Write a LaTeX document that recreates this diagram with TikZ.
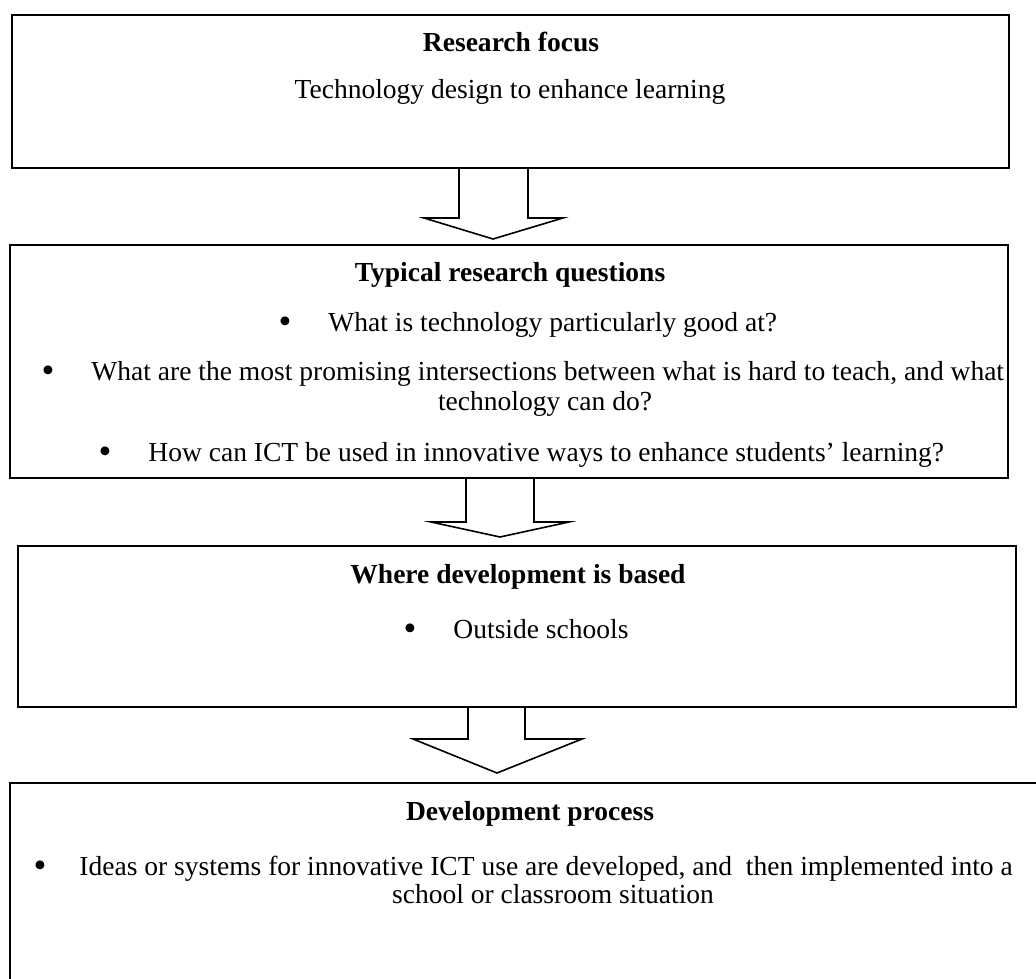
\documentclass[tikz,border=0pt]{standalone}
\usepackage{fontspec}
\setmainfont{Liberation Serif}
\usetikzlibrary{fit}
\begin{document}
\begin{tikzpicture}[x=0.436pt,y=-0.436pt,
  box/.style={draw=black,line width=0.9pt,inner sep=0pt},
  blockarrow/.style={draw=black,line width=0.7pt,line join=miter},
  txt/.style={inner sep=0pt,anchor=base,font=\fontsize{12}{14}\selectfont},
  ttl/.style={txt,font=\fontsize{12}{14}\selectfont\bfseries},
  lt/.style={inner sep=0pt,anchor=base west,font=\fontsize{12}{14}\selectfont},
  bul/.style={inner sep=0pt,anchor=base,font=\fontsize{16}{14}\selectfont}]
\useasboundingbox (0,0) rectangle (1036,979);
\clip (0,0) rectangle (1036,979);
\fill[white] (0,0) rectangle (1036,979);
% boxes
\node[box,fit={(12,15) (1009,168)}] (b1) {};
\node[box,fit={(10,245) (1008,478)}] (b2) {};
\node[box,fit={(18,546) (1016,707)}] (b3) {};
\node[box,fit={(10,783) (1080,1020)}] (b4) {};
% box 1
\node[ttl] (t1) at (511,52) {Research focus};
\node[txt] (t1a) at (510,99) {Technology design to enhance learning};
% box 2
\node[ttl] (t2) at (510,282) {Typical research questions};
\node[bul] (u21) at (285,334) {•};
\node[lt] (l21) at (328,332) {What is technology particularly good at?};
\node[bul] (u22) at (48,383) {•};
\node[lt] (l22) at (91,381) {What are the most promising intersections between what is hard to teach, and what};
\node[txt] (l22b) at (545,411) {technology can do?};
\node[bul] (u23) at (105,463) {•};
\node[lt] (l23) at (148,461) {How can ICT be used in innovative ways to enhance students’ learning?};
% box 3
\node[ttl] (t3) at (518,583) {Where development is based};
\node[bul] (u31) at (410,640) {•};
\node[lt] (l31) at (453,638) {Outside schools};
% box 4
\node[ttl] (t4) at (530,820) {Development process};
\node[bul] (u41) at (40,877) {•};
\node[lt] (l41) at (79,875) {Ideas or systems for innovative ICT use are developed, and\ \ then implemented into a};
\node[txt] (l41b) at (553,903) {school or classroom situation};
% block arrows
\draw[blockarrow] (459,0 |- b1.south) -- (459,218) -- (424,218) -- (493,239) -- (563,218) -- (528,218) -- (528,0 |- b1.south);
\draw[blockarrow] (466,0 |- b2.south) -- (466,522) -- (431,522) -- (500,537) -- (569,522) -- (534,522) -- (534,0 |- b2.south);
\draw[blockarrow] (468,0 |- b3.south) -- (468,739) -- (413,739) -- (497,773) -- (582,739) -- (525,739) -- (525,0 |- b3.south);
\end{tikzpicture}
\end{document}
